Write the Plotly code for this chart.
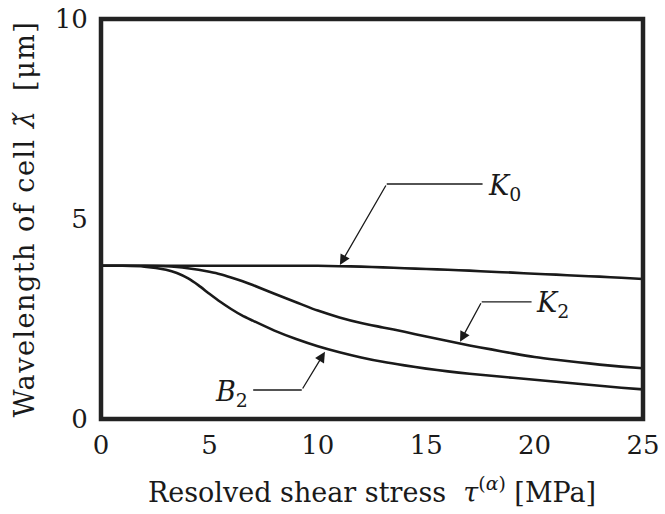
import plotly.graph_objects as go

# ---- data ----
tau = [0, 1, 2, 3, 3.5, 4, 4.5, 5, 5.5, 6, 6.5, 7, 8, 9, 10, 11, 12, 13, 14, 15,
       16, 17, 18, 19, 20, 21, 22, 23, 24, 25]
K0 = [3.83, 3.83, 3.83, 3.83, 3.83, 3.83, 3.83, 3.83, 3.83, 3.83, 3.83, 3.83, 3.83,
      3.83, 3.83, 3.82, 3.81, 3.79, 3.77, 3.75, 3.73, 3.71, 3.68, 3.66, 3.63, 3.61,
      3.58, 3.56, 3.53, 3.50]
K2 = [3.83, 3.83, 3.83, 3.82, 3.80, 3.77, 3.73, 3.68, 3.62, 3.54, 3.45, 3.35, 3.13,
      2.92, 2.71, 2.54, 2.40, 2.29, 2.18, 2.06, 1.95, 1.84, 1.74, 1.64, 1.55, 1.48,
      1.42, 1.36, 1.31, 1.27]
B2 = [3.83, 3.83, 3.81, 3.73, 3.65, 3.52, 3.34, 3.13, 2.93, 2.75, 2.59, 2.46, 2.21,
      2.00, 1.82, 1.67, 1.54, 1.43, 1.34, 1.26, 1.19, 1.13, 1.08, 1.03, 0.98, 0.93,
      0.88, 0.83, 0.78, 0.74]
x_ticks = [0, 5, 10, 15, 20, 25]
y_ticks = [0, 5, 10]

# label callouts: (label, tip x, tip y, elbow x, elbow y, leader end x, text x, anchor)
callouts = [
    ("<i>K</i><sub>0</sub>", 11.02, 3.85, 13.18, 5.875, 17.6, 17.75, "left"),
    ("<i>K</i><sub>2</sub>", 16.56, 1.93, 17.56, 2.93, 19.86, 19.95, "left"),
    ("<i>B</i><sub>2</sub>", 10.33, 1.68, 9.26, 0.725, 7.02, 6.85, "right"),
]

FONT = "DejaVu Serif"
INK = "#1a1a1a"

fig = go.Figure()
for name, ys in (("K0", K0), ("K2", K2), ("B2", B2)):
    fig.add_trace(go.Scatter(x=tau, y=ys, mode="lines", name=name,
                             line=dict(color=INK, width=2.6, shape="spline", smoothing=0.6),
                             showlegend=False, hoverinfo="skip"))

shapes = [dict(type="rect", xref="paper", yref="paper", x0=0, x1=1, y0=0, y1=1,
               line=dict(color="#222222", width=4.5), fillcolor="rgba(0,0,0,0)", layer="above")]
annotations = []
for label, tx, ty, ex, ey, lx, txt_x, anchor in callouts:
    annotations.append(dict(x=tx, y=ty, ax=ex, ay=ey, xref="x", yref="y", axref="x", ayref="y",
                            text="", showarrow=True, arrowhead=2, arrowsize=1.6,
                            arrowwidth=1.3, arrowcolor=INK, standoff=0))
    shapes.append(dict(type="line", xref="x", yref="y", x0=ex, x1=lx, y0=ey, y1=ey,
                       line=dict(color=INK, width=1.3)))
    annotations.append(dict(x=txt_x, y=ey, xref="x", yref="y", text=label, showarrow=False,
                            xanchor=anchor, yanchor="middle", yshift=-3,
                            font=dict(family=FONT, size=27, color=INK)))

fig.update_layout(
    width=665, height=514,
    margin=dict(l=101, r=22, t=19, b=95, autoexpand=False),
    paper_bgcolor="white", plot_bgcolor="white",
    font=dict(family=FONT, size=27, color=INK),
    shapes=shapes, annotations=annotations,
    xaxis=dict(range=[0, 25], tickvals=x_ticks, ticktext=[str(v) for v in x_ticks],
               automargin=False,
               showgrid=False, zeroline=False, showline=False, ticks="outside", ticklen=0,
               ticklabelstandoff=3,
               tickfont=dict(family=FONT, size=26, color=INK),
               title=dict(text='Resolved shear stress  <i>τ</i><sup>(<i>α</i>)</sup> [MPa]',
                          font=dict(family=FONT, size=27, color=INK), standoff=23)),
    yaxis=dict(range=[0, 10], tickvals=y_ticks, ticktext=[str(v) for v in y_ticks],
               automargin=False,
               showgrid=False, zeroline=False, showline=False, ticks="outside", ticklen=0,
               ticklabelstandoff=7,
               tickfont=dict(family=FONT, size=26, color=INK),
               title=dict(text='<span style="letter-spacing:1.5px">Wavelength of cell </span><i>λ̌</i>'
                               '<span style="letter-spacing:1.5px">  [μm]</span>',
                          font=dict(family=FONT, size=27, color=INK), standoff=12)),
)

fig.write_html("out.html")
